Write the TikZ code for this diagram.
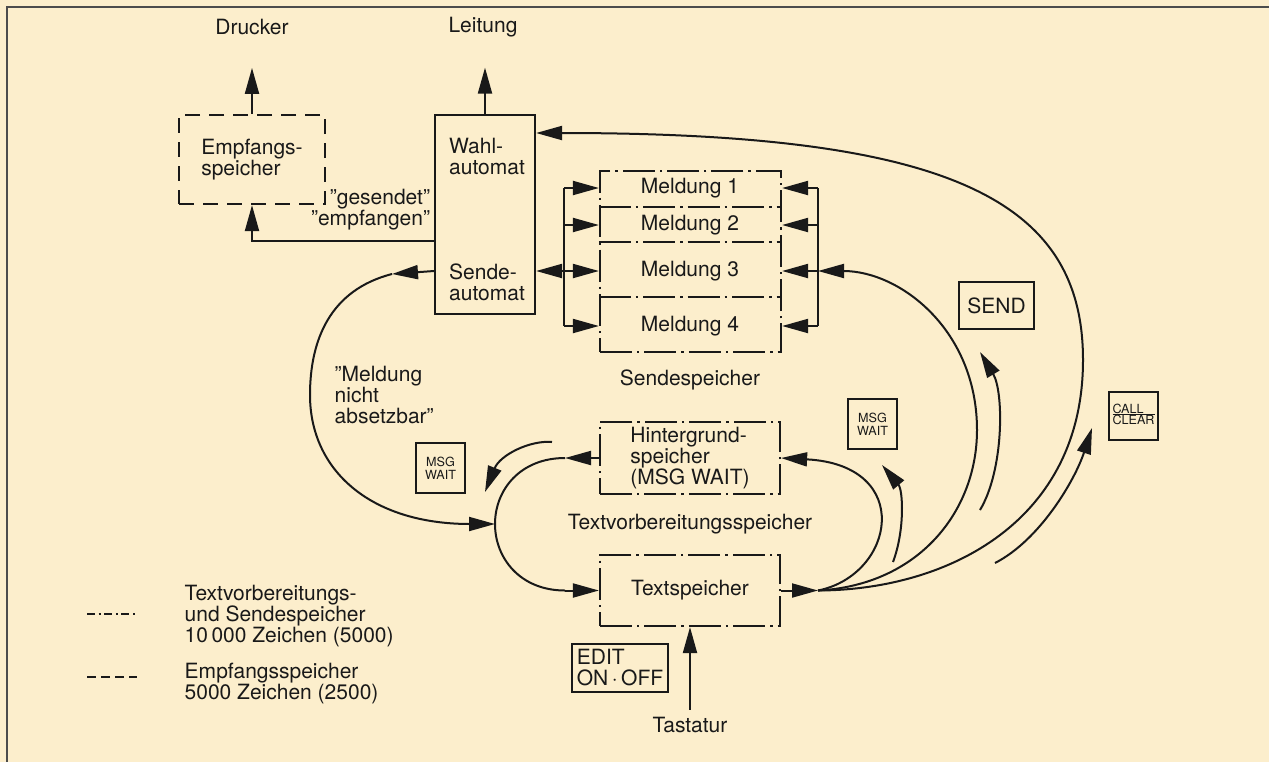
\documentclass[tikz,border=0pt]{standalone}
\usepackage{fontspec}
\setmainfont{TeX Gyre Heros}
\usepackage{xcolor}
\usetikzlibrary{arrows.meta}
\definecolor{paper}{RGB}{252,238,204}
\colorlet{ink}{black!90}

\begin{document}
\begin{tikzpicture}[x=0.5pt,y=-0.5pt,color=ink,line width=1pt,
	>={Triangle[length=13pt,width=7pt]},
	every node/.style={font=\fontsize{10.5}{10.5}\selectfont,text=ink},
	box/.style={draw,line width=1.1pt,inner sep=0pt},
	dashbox/.style={box,dash pattern=on 7.5pt off 4.5pt},
	dotbox/.style={box,dash pattern=on 16pt off 2.5pt on 1.2pt off 2.5pt},
	dotline/.style={line width=1.1pt,dash pattern=on 16pt off 2.5pt on 1.2pt off 2.5pt},
	key/.style={draw,line width=0.9pt,inner sep=0pt},
	small/.style={font=\fontsize{6.3}{6.6}\selectfont}]
	\fill[paper] (0,0) rectangle (1269,762);
	\useasboundingbox (0,0) rectangle (1269,762);
	\draw[black!70] (1269,7) -- (7,7) -- (7,762);

	\node	(drucker) at (252,27) {Drucker};
	\node	(leitung) at (483,27) {Leitung};
	\node	(empf) at (252,159.5) [dashbox,minimum width=73pt,minimum height=44.5pt,align=left] {Empfangs-\\speicher};
	\node	(auto) at (485,214.5) [box,minimum width=50pt,minimum height=99.5pt] {};
	\node	(wahl) at (487,156) [align=left] {Wahl-\\automat};
	\node	(sende) at (487,282) [align=left] {Sende-\\automat};
	\node	(gesendet) at (433,210) [anchor=east,align=right,inner sep=1pt] {”gesendet”\\”empfangen”};
	\node	(sendesp) at (690.5,261.5) [dotbox,minimum width=90.5pt,minimum height=90.5pt] {};
	\node	(m1) at (690,188) {Meldung 1};
	\node	(m2) at (690,225) {Meldung 2};
	\node	(m3) at (690,271) {Meldung 3};
	\node	(m4) at (690,326) {Meldung 4};
	\node	(sendelbl) at (690,380) {Sendespeicher};
	\node	(hint) at (690,458) [dotbox,minimum width=90pt,minimum height=36pt,align=left] {Hintergrund-\\speicher\\(MSG WAIT)};
	\node	(tvs) at (690,524) {Textvorbereitungsspeicher};
	\node	(text) at (690,590.5) [dotbox,minimum width=90pt,minimum height=35.5pt] {Textspeicher};
	\node	(tast) at (690,725) {Tastatur};
	\node	(edit) at (620,668) [key,minimum width=48pt,minimum height=24pt,align=left] {EDIT\\ON\,·\,OFF};
	\node	(send) at (996.5,305.5) [key,minimum width=37.5pt,minimum height=23.5pt] {SEND};
	\node	(msgr) at (872.5,424) [key,small,minimum width=24.5pt,minimum height=25pt,align=center] {MSG\\WAIT};
	\node	(msgl) at (440.5,468) [key,small,minimum width=24.5pt,minimum height=25pt,align=center] {MSG\\WAIT};
	\node	(call) at (1133.5,416) [key,small,minimum width=24.5pt,minimum height=24pt] {\begin{tabular}{@{}l@{}}CALL\\[-1.5pt]\hline CLEAR\end{tabular}};
	\node	(nicht) at (327,395) [anchor=west,align=left] {”Meldung\\nicht\\absetzbar”};
	\node	(keytv) at (177,616) [anchor=west,align=left] {Textvorbereitungs-\\und Sendespeicher\\10\,000 Zeichen (5000)};
	\node	(keyem) at (177,684) [anchor=west,align=left] {Empfangsspeicher\\5000 Zeichen (2500)};

	\coordinate (busl) at (564,0);
	\coordinate (busr) at (818,0);
	\coordinate (fan) at (818,590.5);
	\coordinate (loopn) at (565,458);
	\coordinate (loops) at (565,590.5);
	\coordinate (loopw) at (495,524);
	\coordinate (nichtA) at (392,274);
	\coordinate (nichtB) at (470,524);
	\coordinate (sendA) at (980,510);
	\coordinate (sendB) at (980,352);
	\coordinate (msgA) at (893,562);
	\coordinate (msgB) at (882,465);
	\coordinate (callA) at (995,563);
	\coordinate (callB) at (1092,428);
	\coordinate (msglA) at (552,442);
	\coordinate (msglB) at (485,492);

	\draw[dotline] (sendesp.west |- 0,207) -- (sendesp.east |- 0,207);
	\draw[dotline] (sendesp.west |- 0,242) -- (sendesp.east |- 0,242);
	\draw[dotline] (sendesp.west |- 0,297) -- (sendesp.east |- 0,297);
	\draw[line width=0.8pt,dash pattern=on 4pt off 1.8pt on 1pt off 1.8pt] (87,614) -- (137,614);
	\draw[line width=0.8pt,dash pattern=on 4.5pt off 2.5pt] (87,677) -- (137,677);

	\draw[->,shorten >=12.7pt] (empf.north) -- (drucker.south);
	\draw[->,shorten >=11.5pt] (auto.north) -- (auto.north |- leitung.south);
	\draw[->] (auto.west |- 0,241) -| (empf.south);
	\draw (busl |- m1) -- (busl |- m4);
	\draw (busr |- m1) -- (busr |- m4);
	\draw 
	(busl |- m1) edge[->] (sendesp.west |- m1)
	(busl |- m2) edge[->] (sendesp.west |- m2)
	(busl |- m4) edge[->] (sendesp.west |- m4)
	(auto.east |- m3) edge[<->] (sendesp.west |- m3)
	(busr |- m1) edge[->] (sendesp.east |- m1)
	(busr |- m2) edge[->] (sendesp.east |- m2)
	(busr |- m3) edge[->] (sendesp.east |- m3)
	(busr |- m4) edge[->] (sendesp.east |- m4)
	(text.east) edge[->] (fan)
	(tast.north) edge[->] (text.south)
	;
	\draw[->] (fan) .. controls (895,575) and (915,465) .. (hint.east);
	\draw[->] (fan) .. controls (920,585) and (977,510) .. (977,430) .. controls (977,330) and (900,271) .. (busr |- m3);
	\draw[->] (fan) .. controls (950,590) and (1083,520) .. (1083,360) .. controls (1083,200) and (950,133) .. (auto.east |- 0,133);
	\draw[->] (hint.west) -- (loopn);
	\draw (loopn) .. controls (520,458) and (495,490) .. (loopw) .. controls (495,558) and (520,590.5) .. (loops);
	\draw[->] (loops) -- (text.west);
	\draw[->] (auto.west |- m3) -- (nichtA);
	\draw (nichtA) .. controls (330,290) and (310,340) .. (310,395) .. controls (310,470) and (370,524) .. (nichtB);
	\draw[->] (nichtB) -- (loopw);
	\draw[->] (sendA) .. controls (1004,470) and (1004,392) .. (sendB);
	\draw[->] (msgA) .. controls (905,530) and (903,490) .. (msgB);
	\draw[->] (callA) .. controls (1040,540) and (1075,480) .. (callB);
	\draw[->] (msglA) .. controls (530,440) and (500,455) .. (msglB);
\end{tikzpicture}
\end{document}
